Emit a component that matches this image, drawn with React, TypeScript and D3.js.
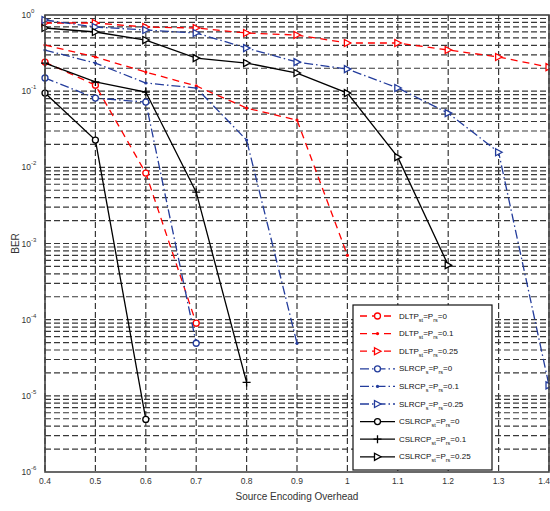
import React, { useRef, useEffect } from "react";
import * as d3 from "d3";

// source encoding overhead (x)
const overhead = [0.4, 0.5, 0.6, 0.7, 0.8, 0.9, 1.0, 1.1, 1.2, 1.3, 1.4];

// BER values
const dltp0 = [0.241, 0.12, 0.0084, 9e-5];
const dltp01 = [0.403, 0.281, 0.178, 0.117, 0.06, 0.0417, 0.0007];
const dltp025 = [0.785, 0.785, 0.695, 0.675, 0.58, 0.546, 0.429, 0.429, 0.347, 0.281, 0.207];
const slrcp0 = [0.149, 0.0811, 0.0719, 4.9e-5];
const slrcp01 = [0.347, 0.234, 0.128, 0.11, 0.0228, 4.9e-5];
const slrcp025 = [0.86, 0.695, 0.635, 0.58, 0.368, 0.241, 0.195, 0.11, 0.0515, 0.0158, 1.37e-5];
const cslrcp0 = [0.0944, 0.0228, 4.9e-6];
const cslrcp01 = [0.234, 0.132, 0.0973, 0.00472, 1.5e-5];
const cslrcp025 = [0.675, 0.598, 0.469, 0.272, 0.234, 0.173, 0.0944, 0.0136, 0.000519];

const xTicks = ["0.4", "0.5", "0.6", "0.7", "0.8", "0.9", "1", "1.1", "1.2", "1.3", "1.4"];
const yExponents = [0, -1, -2, -3, -4, -5, -6];

const RED = "#ff0000";
const BLUE = "#233c9c";
const BLACK = "#000000";

const series = [
  { name: "DLTP", s1: "st", val: "0", data: dltp0, color: RED, dash: "7,5", marker: "o" },
  { name: "DLTP", s1: "st", val: "0.1", data: dltp01, color: RED, dash: "7,5", marker: "." },
  { name: "DLTP", s1: "st", val: "0.25", data: dltp025, color: RED, dash: "7,5", marker: ">" },
  { name: "SLRCP", s1: "s", val: "0", data: slrcp0, color: BLUE, dash: "9,3,1.5,3", marker: "o" },
  { name: "SLRCP", s1: "s", val: "0.1", data: slrcp01, color: BLUE, dash: "9,3,1.5,3", marker: "." },
  { name: "SLRCP", s1: "s", val: "0.25", data: slrcp025, color: BLUE, dash: "9,3,1.5,3", marker: ">" },
  { name: "CSLRCP", s1: "st", val: "0", data: cslrcp0, color: BLACK, dash: null, marker: "o" },
  { name: "CSLRCP", s1: "st", val: "0.1", data: cslrcp01, color: BLACK, dash: null, marker: "+" },
  { name: "CSLRCP", s1: "st", val: "0.25", data: cslrcp025, color: BLACK, dash: null, marker: ">" },
];

function drawMarker(g, type, x, y, color) {
  if (type === "o") {
    g.append("circle").attr("cx", x).attr("cy", y).attr("r", 3)
      .attr("fill", "white").attr("stroke", color).attr("stroke-width", 1.3);
  } else if (type === ".") {
    g.append("circle").attr("cx", x).attr("cy", y).attr("r", 1.6).attr("fill", color);
  } else if (type === "+") {
    g.append("path").attr("d", `M${x - 4},${y}H${x + 4}M${x},${y - 4}V${y + 4}`)
      .attr("stroke", color).attr("stroke-width", 1.3);
  } else {
    g.append("path").attr("d", `M${x - 3},${y - 3.5}L${x + 3.5},${y}L${x - 3},${y + 3.5}Z`)
      .attr("fill", "white").attr("stroke", color).attr("stroke-width", 1.3);
  }
}

function Chart() {
  const svgRef = useRef(null);
  useEffect(() => {
    const svg = d3.select(svgRef.current);
    svg.selectChildren().remove();
    const left = 45, right = 549, top = 15, bottom = 472;
    const font = "Liberation Sans, Arial, sans-serif";

    const x = d3.scaleLinear().domain([0.4, 1.4]).range([left, right]);
    const y = d3.scaleLog().domain([1e-6, 1]).range([bottom, top]);

    svg.append("rect").attr("x", left).attr("y", top)
      .attr("width", right - left).attr("height", bottom - top).attr("fill", "white");

    // grid
    const grid = svg.append("g").attr("stroke", "#383838").attr("stroke-width", 1.2)
      .attr("stroke-dasharray", "6,3");
    overhead.forEach((v) => {
      grid.append("line").attr("x1", x(v)).attr("x2", x(v)).attr("y1", top).attr("y2", bottom);
    });
    yExponents.forEach((e) => {
      if (e === -6) return;
      for (let k = 1; k <= 9; k++) {
        const v = k * Math.pow(10, e - 1);
        if (v < 1e-6) continue;
        const yy = y(v);
        if (yy <= top + 0.5 || yy >= bottom - 0.5) continue;
        grid.append("line").attr("x1", left).attr("x2", right).attr("y1", yy).attr("y2", yy);
      }
    });

    // curves
    const line = d3.line().x((d) => x(d[0])).y((d) => y(d[1]));
    series.forEach((s) => {
      const pts = s.data.map((v, i) => [overhead[i], v]);
      svg.append("path").datum(pts).attr("d", line).attr("fill", "none")
        .attr("stroke", s.color).attr("stroke-width", 1.3)
        .attr("stroke-dasharray", s.dash);
      const mg = svg.append("g");
      pts.forEach((p) => drawMarker(mg, s.marker, x(p[0]), y(p[1]), s.color));
    });

    // frame
    svg.append("rect").attr("x", left).attr("y", top)
      .attr("width", right - left).attr("height", bottom - top)
      .attr("fill", "none").attr("stroke", "#444").attr("stroke-width", 1.6);

    // x tick labels
    xTicks.forEach((t, i) => {
      const last = i === xTicks.length - 1;
      svg.append("text").attr("x", last ? 550 : x(overhead[i])).attr("y", bottom + 12)
        .attr("text-anchor", last ? "end" : "middle").attr("font-family", font).attr("font-size", 8.5)
        .attr("fill", "#333").text(t);
    });

    // y tick labels
    yExponents.forEach((e) => {
      const yy = y(Math.pow(10, e));
      svg.append("text").attr("x", left - 14).attr("y", yy + 3)
        .attr("text-anchor", "end").attr("font-family", font).attr("font-size", 8.5)
        .attr("fill", "#333").text("10");
      svg.append("text").attr("x", left - 14).attr("y", yy - 2)
        .attr("font-family", font).attr("font-size", 6).attr("fill", "#333")
        .text(e === 0 ? "0" : String(e));
    });

    // axis labels
    svg.append("text").attr("x", (left + right) / 2).attr("y", bottom + 28)
      .attr("text-anchor", "middle").attr("font-family", font).attr("font-size", 10)
      .attr("fill", "#333").text("Source Encoding Overhead");
    svg.append("text").attr("transform", `translate(19,${(top + bottom) / 2}) rotate(-90)`)
      .attr("text-anchor", "middle").attr("font-family", font).attr("font-size", 10)
      .attr("fill", "#333").text("BER");

    // legend
    const lx = 353, ly = 305, lw = 139, lh = 165;
    svg.append("rect").attr("x", lx).attr("y", ly).attr("width", lw).attr("height", lh)
      .attr("fill", "white").attr("stroke", "#111").attr("stroke-width", 1.2);
    series.forEach((s, i) => {
      const yy = ly + 11 + i * 17.6;
      svg.append("line").attr("x1", lx + 7).attr("x2", lx + 42).attr("y1", yy).attr("y2", yy)
        .attr("stroke", s.color).attr("stroke-width", 1.3).attr("stroke-dasharray", s.dash);
      drawMarker(svg, s.marker, lx + 24.5, yy, s.color);
      const t = svg.append("text").attr("x", lx + 46).attr("y", yy + 2.5)
        .attr("font-family", font).attr("font-size", 8).attr("fill", "#111");
      t.append("tspan").text(s.name);
      t.append("tspan").attr("font-size", 5.5).attr("dy", 3).text(s.s1);
      t.append("tspan").attr("dy", -3).text("=P");
      t.append("tspan").attr("font-size", 5.5).attr("dy", 3).text("rs");
      t.append("tspan").attr("dy", -3).text("=" + s.val);
    });
  }, []);
  return (
    <svg ref={svgRef} width={550} height={511}
      style={{ position: "absolute", left: 0, top: 0, background: "white" }} />
  );
}

export default function App() {
  return <Chart />;
}
